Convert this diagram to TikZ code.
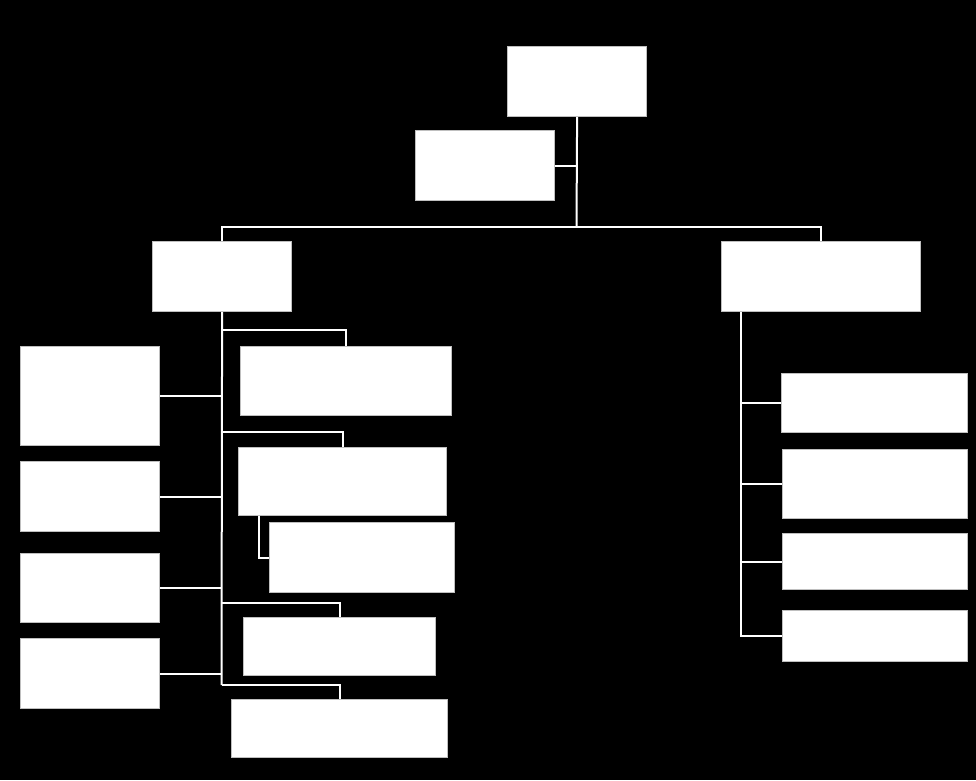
\documentclass[tikz,border=0pt]{standalone}
\begin{document}
\begin{tikzpicture}[x=1pt,y=-1pt,
  box/.style={fill=white, draw=white!75!black, line width=1.2pt, inner sep=0pt, anchor=north west},
  link/.style={draw=white, line width=2pt}]
\fill[black] (0,0) rectangle (976,780);
\useasboundingbox (0,0) rectangle (976,780);
% top level
\node[box, minimum width=139pt, minimum height=70pt] (top) at (507,46) {};
\node[box, minimum width=139pt, minimum height=70pt] (asst) at (415,130) {};
\node[box, minimum width=139pt, minimum height=70pt] (L1) at (152,241) {};
\node[box, minimum width=199pt, minimum height=70pt] (R1) at (721,241) {};
% left branch, left side
\node[box, minimum width=139pt, minimum height=99pt] (A1) at (20,346) {};
\node[box, minimum width=139pt, minimum height=70pt] (A2) at (20,461) {};
\node[box, minimum width=139pt, minimum height=69pt] (A3) at (20,553) {};
\node[box, minimum width=139pt, minimum height=70pt] (A4) at (20,638) {};
% left branch, right side
\node[box, minimum width=211pt, minimum height=69pt] (C1) at (240,346) {};
\node[box, minimum width=208pt, minimum height=68pt] (C2) at (238,447) {};
\node[box, minimum width=185pt, minimum height=70pt] (C3) at (269,522) {};
\node[box, minimum width=192pt, minimum height=58pt] (C4) at (243,617) {};
\node[box, minimum width=216pt, minimum height=58pt] (C5) at (231,699) {};
% right branch
\node[box, minimum width=186pt, minimum height=59pt] (D1) at (781,373) {};
\node[box, minimum width=185pt, minimum height=69pt] (D2) at (782,449) {};
\node[box, minimum width=185pt, minimum height=56pt] (D3) at (782,533) {};
\node[box, minimum width=185pt, minimum height=51pt] (D4) at (782,610) {};
% connectors
\coordinate (hub) at (576.5,227);
\draw[link] (top.south) -- (hub);
\draw[link] (asst.east) -- (asst.east -| top.south);
\draw[link] (L1.north) |- (hub) -| (R1.north);
\coordinate (lend) at (221.5,685);
\draw[link] (L1.south) -- (lend);
\draw[link] (A1.east) -- (A1.east -| L1.south);
\draw[link] (A2.east) -- (A2.east -| L1.south);
\draw[link] (A3.east) -- (A3.east -| L1.south);
\draw[link] (A4.east) -- (A4.east -| L1.south);
\coordinate (j1) at (221.5,330);
\coordinate (j2) at (221.5,432);
\coordinate (j4) at (221.5,603);
\draw[link] (j1) -| (C1.north);
\draw[link] (j2) -| (C2.north);
\draw[link] (j4) -| (C4.north);
\draw[link] (lend) -| (C5.north);
\draw[link] ([xshift=21pt]C2.south west) |- (C3.west);
\coordinate (rt) at ([xshift=20pt]R1.south west);
\draw[link] (rt) |- (D4.west);
\draw[link] (D1.west) -- (D1.west -| rt);
\draw[link] (D2.west) -- (D2.west -| rt);
\draw[link] (D3.west) -- (D3.west -| rt);
\end{tikzpicture}
\end{document}
